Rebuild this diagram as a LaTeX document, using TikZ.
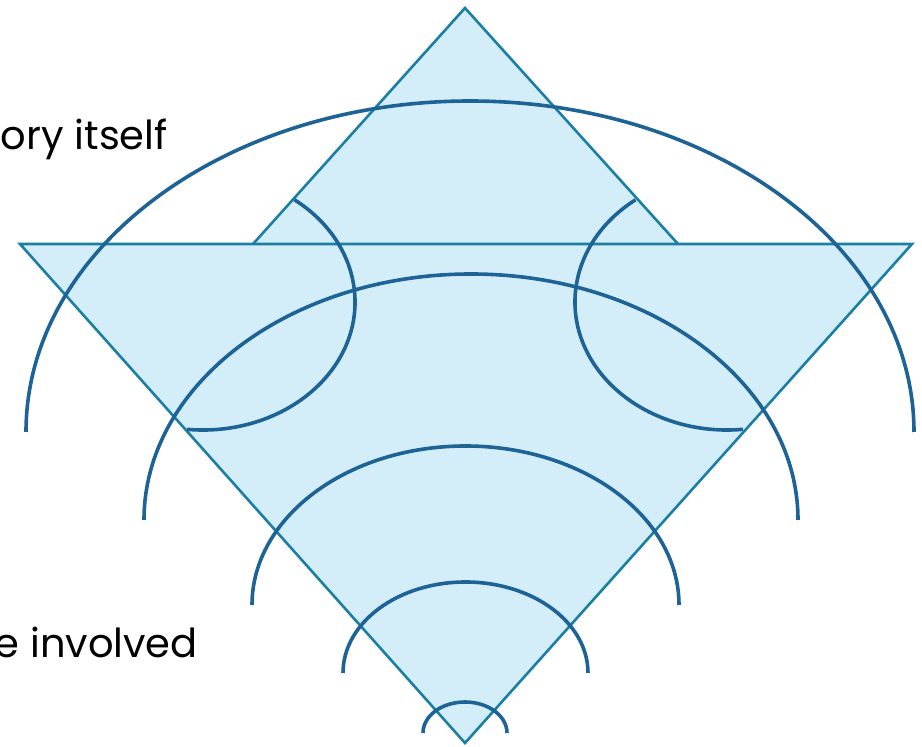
\documentclass[tikz,border=0pt]{standalone}
\usepackage{fontspec}
\setmainfont{Poppins}
\definecolor{trifill}{HTML}{D4EEF9}
\definecolor{tristroke}{HTML}{1A7FA3}
\definecolor{arcblue}{HTML}{1E6396}
\begin{document}
\begin{tikzpicture}[x=1pt,y=1pt,
  tri/.style={draw=tristroke,line width=2.6pt,line join=miter},
  wave/.style={draw=arcblue,line width=3.6pt},
  lbl/.style={anchor=base east,font=\fontsize{40}{46}\selectfont,inner sep=0pt}]
\useasboundingbox (0,0) rectangle (922,747);
\clip (0,0) rectangle (922,747);
% triangles
\path[fill=trifill] (20,503) -- (912,503) -- (465,4) -- cycle;
\path[fill=trifill] (465,739) -- (253,503) -- (678,503) -- cycle;
\draw[tri] (20,503) -- (912,503) -- (465,4) -- cycle;
\draw[tri] (253,503) -- (465,739) -- (678,503);
% concentric arcs
\draw[wave] (26,315) arc[start angle=180,end angle=0,x radius=444,y radius=331];
\draw[wave] (144,227) arc[start angle=180,end angle=0,x radius=327,y radius=246];
\draw[wave] (252,142) arc[start angle=180,end angle=0,x radius=213.5,y radius=159];
\draw[wave] (343,74) arc[start angle=180,end angle=0,x radius=122.5,y radius=91];
\draw[wave] (423,14) arc[start angle=180,end angle=0,x radius=42,y radius=31];
% side arcs
\draw[wave] (294.5,547.2) arc[start angle=53,end angle=-96,x radius=152,y radius=128];
\draw[wave] (635.5,547.2) arc[start angle=127,end angle=276,x radius=152,y radius=128];
% labels
\node[lbl] (top) at (168,597) {ory itself};
\node[lbl] (bottom) at (198,89) {e involved};
\end{tikzpicture}
\end{document}
